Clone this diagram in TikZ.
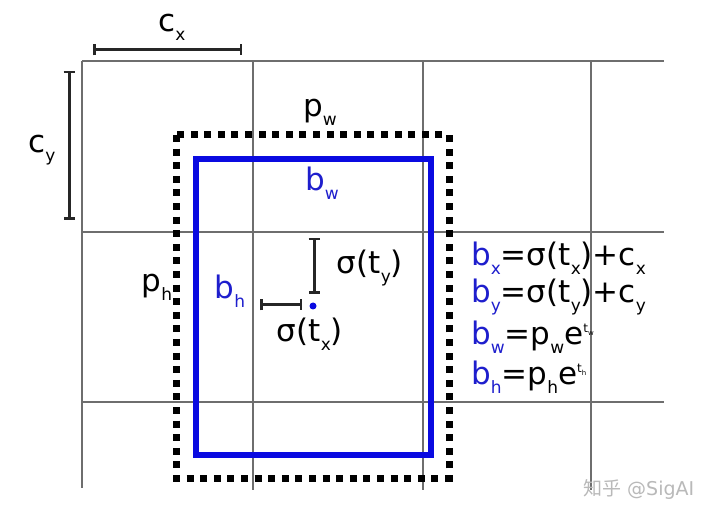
\documentclass[tikz,border=0pt]{standalone}
\usepackage{fontspec}
\setmainfont{DejaVu Sans}
\newfontfamily\cjk{Noto Sans CJK SC}
\usetikzlibrary{arrows.meta}
\definecolor{gridgray}{RGB}{110,110,110}
\definecolor{boxblue}{RGB}{10,10,225}
\definecolor{txtblue}{RGB}{30,30,205}
\definecolor{wmgray}{RGB}{185,185,185}
\newcommand\mysub[1]{\raisebox{-9pt}{\fontsize{17}{17}\selectfont #1}}
\newcommand\mysup[2]{\raisebox{12pt}{\fontsize{12}{12}\selectfont t\raisebox{-3pt}{\fontsize{7}{7}\selectfont #2}}}
\tikzset{
  gridline/.style={draw=gridgray, line width=1.5pt},
  dimbar/.style={draw=black!85, line width=3pt, {Bar[width=11pt,line width=2.5pt]}-{Bar[width=11pt,line width=2.5pt]}},
  lbl/.style={inner sep=0pt, font=\fontsize{31}{31}\selectfont},
  eqn/.style={inner sep=0pt, anchor=west, font=\fontsize{31}{31}\selectfont},
}
\begin{document}
\begin{tikzpicture}[x=1pt,y=-1pt]
\useasboundingbox (0,0) rectangle (720,518);
\fill[white] (0,0) rectangle (720,518);
% grid
\draw[gridline] (82,61) -- (664,61);
\draw[gridline] (82,232) -- (664,232);
\draw[gridline] (82,402) -- (664,402);
\draw[gridline] (82,61) -- (82,488);
\draw[gridline] (253,61) -- (253,490);
\draw[gridline] (423,61) -- (423,490);
\draw[gridline] (591,61) -- (591,490);
% prior box (dotted)
\draw[black, line width=7pt, dash pattern=on 7pt off 6.6pt] (176,135) rectangle (449,478);
% predicted box (blue)
\draw[boxblue, line width=6pt] (196,159) rectangle (431,455);
% dimension bars
\coordinate (cxa) at (93,50); \coordinate (cxb) at (242,50);
\draw[dimbar] (cxa) -- (cxb);
\coordinate (cya) at (69,71); \coordinate (cyb) at (69,220);
\draw[dimbar] (cya) -- (cyb);
\coordinate (tya) at (314,238); \coordinate (tyb) at (314,294);
\draw[dimbar] (tya) -- (tyb);
\coordinate (txa) at (260,305); \coordinate (txb) at (302,305);
\draw[dimbar] (txa) -- (txb);
\node[circle, fill=boxblue, inner sep=0pt, minimum size=7pt] (ctr) at (313,306) {};
% labels
\node[lbl] (cx) at (172,27) {c\mysub{x}};
\node[lbl] (cy) at (42,150) {c\mysub{y}};
\node[lbl] (pw) at (320,112) {p\mysub{w}};
\node[lbl, text=txtblue] (bw) at (322,183) {b\mysub{w}};
\node[lbl] (ph) at (157,287) {p\mysub{h}};
\node[lbl, text=txtblue] (bh) at (230,291) {b\mysub{h}};
\node[lbl] (sty) at (370,268) {σ(t\mysub{y})};
\node[lbl] (stx) at (310,334) {σ(t\mysub{x})};
% equations
\node[eqn] (e1) at (471,258) {{\color{txtblue}b\mysub{x}}=σ(t\mysub{x})+c\mysub{x}};
\node[eqn] (e2) at (471,297) {{\color{txtblue}b\mysub{y}}=σ(t\mysub{y})+c\mysub{y}};
\node[eqn] (e3) at (471,337) {{\color{txtblue}b\mysub{w}}=p\mysub{w}e\mysup{t}{w}};
\node[eqn] (e4) at (471,377) {{\color{txtblue}b\mysub{h}}=p\mysub{h}e\mysup{t}{h}};
% watermark
\node[inner sep=0pt, anchor=west, text=wmgray, font=\fontsize{19}{19}\selectfont] (wm) at (583,489) {{\cjk 知乎} @SigAI};
\end{tikzpicture}
\end{document}
